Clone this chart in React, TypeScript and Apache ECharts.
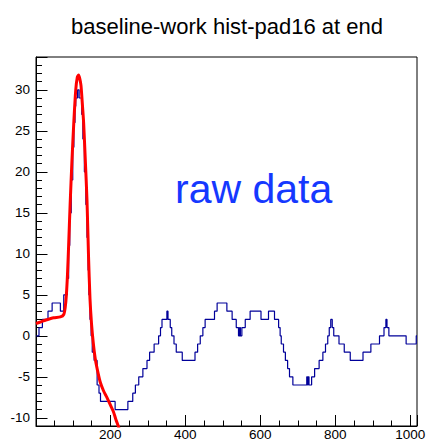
import React, { useEffect, useRef } from "react";
import * as echarts from "echarts";

const TITLE = "baseline-work hist-pad16 at end";
const NOTE = "raw data";

const X_MIN = 2;
const X_MAX = 1018;
const Y_MIN = -11;
const Y_MAX = 34;

// histogram: low edge of each run of equal content, and its content
const HIST_LOW_EDGES = [
  3, 10, 19, 34, 45, 67, 76, 85, 89, 92, 96, 100, 103, 106, 108, 113, 117, 124, 127, 131,
  135, 138, 141, 143, 146, 149, 152, 157, 165, 170, 174, 213, 247, 260, 267, 276, 287, 298, 305, 317,
  329, 334, 338, 351, 354, 360, 364, 370, 376, 392, 426, 433, 440, 447, 453, 478, 485, 511, 525, 536,
  542, 545, 547, 551, 560, 573, 602, 622, 638, 649, 653, 656, 662, 667, 673, 678, 687, 724, 726, 728,
  730, 737, 745, 757, 767, 774, 780, 784, 788, 792, 796, 810, 824, 840, 874, 895, 918, 930, 935, 938,
  943, 989, 1016,
];
const HIST_CONTENTS = [
  0, 1, 2, 3, 4, 3, 5, 7, 11, 15, 19, 23, 26, 28, 29, 30, 29, 27, 24, 20,
  16, 12, 8, 5, 2, 0, -2, -3, -6, -7, -8, -9, -8, -7, -6, -5, -4, -3, -2, -1,
  0, 1, 2, 3, 2, 1, 0, -1, -2, -3, -2, -1, 0, 1, 2, 3, 4, 3, 2, 1,
  0, 1, 0, 1, 2, 3, 2, 3, 2, 1, 0, -1, -2, -3, -4, -5, -6, -5, -6, -5,
  -6, -5, -4, -3, -2, -1, 0, 1, 2, 1, 0, -1, -2, -3, -2, -1, 0, 1, 2, 1,
  0, -1, 0,
];
const HIST_HIGH_EDGE = 1018;

// fitted function
const FIT_X = [
  2, 15, 27, 49, 67, 76, 80, 83, 86, 89, 93, 98, 103, 108, 112, 115.6, 119, 122, 126, 129,
  133.5, 138, 142, 146, 150, 155, 160, 165, 173, 182, 191, 200, 208, 215, 222, 226,
];
const FIT_Y = [
  1.5, 1.7, 1.9, 2.2, 2.3, 2.6, 3.5, 5, 7.5, 11, 16, 21.5, 26.2, 30, 31.5, 31.8, 31.3, 30.5, 28, 26,
  21.4, 16.5, 9.8, 4.5, 1.5, -1, -2.8, -4, -5.6, -6.7, -7.5, -8.4, -9.2, -10.2, -11.1, -11.7,
];

const FONT = "'Liberation Sans', Arial, Helvetica, sans-serif";

export default function App() {
  const ref = useRef<HTMLDivElement>(null);

  useEffect(() => {
    document.body.style.margin = "0";
    if (!ref.current) return;
    const chart = echarts.init(ref.current, undefined, { renderer: "svg" });

    const histData: [number, number][] = HIST_CONTENTS.map((v, i) => [HIST_LOW_EDGES[i], v]);
    histData.push([HIST_HIGH_EDGE, HIST_CONTENTS[HIST_CONTENTS.length - 1]]);
    const fitData: [number, number][] = FIT_X.map((x, i) => [x, FIT_Y[i]]);

    chart.setOption({
      animation: false,
      backgroundColor: "#ffffff",
      textStyle: { fontFamily: FONT },
      grid: {
        left: 36,
        right: 10,
        top: 57,
        bottom: 16,
        show: true,
        borderColor: "#000000",
        borderWidth: 1,
        backgroundColor: "transparent",
        containLabel: false,
        outerBoundsMode: "none",
      },
      graphic: [
        {
          type: "text",
          x: 227,
          y: 26,
          style: {
            text: TITLE,
            align: "center",
            verticalAlign: "middle",
            font: `22px ${FONT}`,
            fill: "#000000",
          },
        },
        {
          type: "text",
          x: 175,
          y: 189,
          style: {
            text: NOTE,
            align: "left",
            verticalAlign: "middle",
            font: `41px ${FONT}`,
            fill: "#1538ff",
          },
        },
      ],
      xAxis: {
        type: "value",
        min: X_MIN,
        max: X_MAX,
        splitNumber: 5,
        splitLine: { show: false },
        axisLine: { show: true, onZero: false, lineStyle: { color: "#000", width: 1 } },
        axisTick: { show: true, inside: true, length: 11, lineStyle: { color: "#000", width: 1 } },
        minorTick: { show: true, splitNumber: 4, length: 5.5, lineStyle: { color: "#000", width: 1 } },
        minorSplitLine: { show: false },
        axisLabel: {
          show: true,
          margin: 1,
          fontSize: 13.5,
          color: "#000",
          fontFamily: FONT,
          formatter: (v: number) => (Math.abs(v % 200) < 1e-6 ? String(v) : ""),
        },
      },
      yAxis: {
        type: "value",
        min: Y_MIN,
        max: Y_MAX,
        splitNumber: 9,
        splitLine: { show: false },
        axisLine: { show: true, onZero: false, lineStyle: { color: "#000", width: 1 } },
        axisTick: { show: true, inside: true, length: 11.5, lineStyle: { color: "#000", width: 1 } },
        minorTick: { show: true, splitNumber: 5, length: 6, lineStyle: { color: "#000", width: 1 } },
        minorSplitLine: { show: false },
        axisLabel: {
          show: true,
          margin: 6,
          fontSize: 13.5,
          color: "#000",
          fontFamily: FONT,
          formatter: (v: number) => (Math.abs(v % 5) < 1e-6 ? String(v) : ""),
        },
      },
      series: [
        {
          type: "line",
          data: histData,
          step: "end",
          showSymbol: false,
          symbol: "none",
          lineStyle: { color: "#000099", width: 1.2 },
          clip: true,
          z: 2,
        },
        {
          type: "line",
          data: fitData,
          smooth: 0.25,
          showSymbol: false,
          symbol: "none",
          lineStyle: { color: "#ff0000", width: 3 },
          clip: true,
          z: 3,
        },
      ],
    });

    return () => chart.dispose();
  }, []);

  return <div ref={ref} style={{ width: 427, height: 442 }} />;
}
